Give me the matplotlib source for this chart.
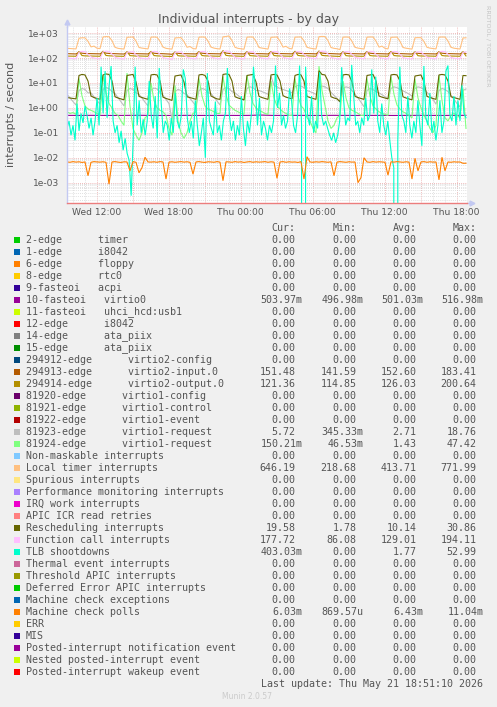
import numpy as np
import matplotlib
matplotlib.use("Agg")
import matplotlib.pyplot as plt
from matplotlib.patches import Rectangle
from matplotlib.ticker import FixedLocator, LogLocator, FuncFormatter

W, H = 497, 707

# ---------------- time axis (hours since Wed 00:00) ----------------
t_start = 9.54
t_end = 42.875
t_last = 42.79
x_tick_hours = [12, 18, 24, 30, 36, 42]
x_tick_labels = ["Wed 12:00", "Wed 18:00", "Thu 00:00", "Thu 06:00", "Thu 12:00", "Thu 18:00"]
x_major_grid_hours = [12, 15, 18, 21, 24, 27, 30, 33, 36, 39, 42]
x_minor_grid_hours = [10, 11, 13, 14, 16, 17, 19, 20, 22, 23, 25, 26, 28, 29, 31, 32,
                      34, 35, 37, 38, 40, 41]

# ---------------- legend ----------------
labels = [
    "2-edge      timer", "1-edge      i8042", "6-edge      floppy", "8-edge      rtc0",
    "9-fasteoi   acpi", "10-fasteoi   virtio0", "11-fasteoi   uhci_hcd:usb1",
    "12-edge      i8042", "14-edge      ata_piix", "15-edge      ata_piix",
    "294912-edge      virtio2-config", "294913-edge      virtio2-input.0",
    "294914-edge      virtio2-output.0", "81920-edge      virtio1-config",
    "81921-edge      virtio1-control", "81922-edge      virtio1-event",
    "81923-edge      virtio1-request", "81924-edge      virtio1-request",
    "Non-maskable interrupts", "Local timer interrupts", "Spurious interrupts",
    "Performance monitoring interrupts", "IRQ work interrupts", "APIC ICR read retries",
    "Rescheduling interrupts", "Function call interrupts", "TLB shootdowns",
    "Thermal event interrupts", "Threshold APIC interrupts", "Deferred Error APIC interrupts",
    "Machine check exceptions", "Machine check polls", "ERR", "MIS",
    "Posted-interrupt notification event", "Nested posted-interrupt event",
    "Posted-interrupt wakeup event",
]
colors = [
    "#00CC00", "#0066B3", "#FF8000", "#FFCC00", "#330099", "#990099", "#CCFF00", "#FF0000",
    "#808080", "#008F00", "#00487D", "#B35A00", "#B38F00", "#6B006B", "#8FB300", "#B30000",
    "#BEBEBE", "#80FF80", "#80C9FF", "#FFC080", "#FFE680", "#AA80FF", "#EE00CC", "#FF8080",
    "#666600", "#FFBFFF", "#00FFCC", "#CC6699", "#999900",
    "#00CC00", "#0066B3", "#FF8000", "#FFCC00", "#330099", "#990099", "#CCFF00", "#FF0000",
]
stat_cur = [0, 0, 0, 0, 0, 0.50397, 0, 0, 0, 0, 0, 151.48, 121.36, 0, 0, 0, 5.72, 0.15021,
            0, 646.19, 0, 0, 0, 0, 19.58, 177.72, 0.40303, 0, 0, 0, 0, 0.00603, 0, 0, 0, 0, 0]
stat_min = [0, 0, 0, 0, 0, 0.49698, 0, 0, 0, 0, 0, 141.59, 114.85, 0, 0, 0, 0.34533, 0.04653,
            0, 218.68, 0, 0, 0, 0, 1.78, 86.08, 0, 0, 0, 0, 0, 0.00086957, 0, 0, 0, 0, 0]
stat_avg = [0, 0, 0, 0, 0, 0.50103, 0, 0, 0, 0, 0, 152.60, 126.03, 0, 0, 0, 2.71, 1.43,
            0, 413.71, 0, 0, 0, 0, 10.14, 129.01, 1.77, 0, 0, 0, 0, 0.00643, 0, 0, 0, 0, 0]
stat_max = [0, 0, 0, 0, 0, 0.51698, 0, 0, 0, 0, 0, 183.41, 200.64, 0, 0, 0, 18.76, 47.42,
            0, 771.99, 0, 0, 0, 0, 30.86, 194.11, 52.99, 0, 0, 0, 0, 0.01104, 0, 0, 0, 0, 0]

# ---------------- series ----------------
virtio0 = [0.501, 0.499, 0.503, 0.500, 0.498, 0.502, 0.505, 0.500, 0.497, 0.501, 0.503, 0.499,
           0.500, 0.502, 0.498, 0.501, 0.517, 0.500, 0.499, 0.502, 0.500, 0.498, 0.503, 0.501,
           0.499, 0.500, 0.502, 0.497, 0.501, 0.503, 0.500, 0.499, 0.502, 0.504]

virtio2_input = [
    150, 148, 147, 146, 172, 156, 152, 151,
    150, 149, 148, 147, 175, 157, 153, 151,
    149, 148, 146, 145, 170, 155, 151, 150,
    150, 149, 147, 146, 174, 156, 152, 151,
    149, 147, 145, 141.59, 168, 154, 151, 150,
    150, 148, 147, 146, 172, 156, 152, 151,
    151, 149, 148, 147, 183.41, 158, 153, 152,
    150, 148, 147, 146, 171, 155, 152, 150,
    150, 149, 147, 146, 173, 156, 152, 151,
    151, 149, 148, 147, 174, 157, 153, 151,
    151, 150, 148, 147, 178, 158, 154, 152,
    150, 148, 147, 145, 170, 155, 151, 150,
    150, 149, 147, 146, 172, 156, 152, 151,
    150, 149, 148, 146, 173, 156, 152, 151,
    149, 147, 146, 145, 168, 154, 151, 150,
    150, 149, 147, 146, 172, 156, 152, 151,
    150, 148, 147, 146, 170, 151.48,
]

virtio2_output = [
    120, 119, 118, 118, 185, 126, 122, 121,
    121, 120, 119, 118, 190, 127, 123, 121,
    120, 119, 118, 117, 182, 125, 122, 120,
    121, 120, 118, 118, 188, 126, 122, 121,
    120, 118, 117, 114.85, 178, 124, 121, 120,
    121, 119, 118, 118, 186, 126, 122, 121,
    121, 120, 119, 118, 200.64, 128, 123, 122,
    120, 119, 118, 117, 184, 125, 122, 120,
    121, 120, 118, 118, 187, 126, 122, 121,
    121, 120, 119, 118, 189, 127, 123, 121,
    122, 120, 119, 118, 195, 128, 124, 122,
    120, 119, 118, 116, 183, 125, 121, 120,
    121, 119, 118, 118, 186, 126, 122, 121,
    121, 120, 118, 118, 187, 126, 122, 121,
    120, 118, 117, 116, 180, 124, 121, 120,
    121, 120, 118, 118, 186, 126, 122, 121,
    120, 119, 118, 118, 182, 121.36,
]

virtio1_request_a = [
    3.5, 2.5, 1.8, 1.3, 5.0, 6.0, 5.5, 4.0,
    4.0, 2.8, 2.0, 1.4, 5.5, 6.5, 6.0, 4.5,
    3.8, 2.6, 1.8, 1.2, 5.0, 6.0, 5.5, 4.0,
    3.5, 2.5, 1.7, 1.2, 5.2, 6.2, 5.8, 4.2,
    3.2, 2.2, 1.5, 0.345, 4.5, 5.5, 5.0, 3.8,
    3.4, 2.4, 1.7, 1.2, 5.0, 6.0, 5.5, 4.0,
    3.8, 2.7, 1.9, 1.3, 5.5, 6.5, 6.0, 4.5,
    4.0, 3.2, 2.5, 2.0, 6.0, 7.0, 6.5, 5.0,
    5.0, 4.5, 4.0, 3.5, 18.76, 8.0, 7.0, 6.0,
    5.5, 5.0, 4.5, 4.0, 7.0, 8.0, 7.5, 6.5,
    5.0, 4.5, 4.0, 3.5, 6.5, 7.5, 7.0, 6.0,
    4.2, 3.2, 2.4, 1.7, 6.0, 7.0, 6.5, 5.0,
    3.5, 2.5, 1.7, 1.1, 5.0, 6.0, 5.5, 4.5,
    4.0, 3.4, 2.8, 2.3, 6.0, 7.0, 6.5, 5.5,
    4.8, 4.2, 3.6, 3.0, 6.0, 7.0, 6.5, 5.5,
    4.2, 3.2, 2.2, 1.4, 5.0, 6.0, 5.5, 4.5,
    3.2, 2.2, 1.5, 1.1, 5.0, 5.72,
]

virtio1_request_b = [
    0.7, 0.6, 0.65, 0.55, 15, 3, 1.2, 0.9,
    0.8, 0.7, 0.6, 0.5, 20, 4, 1.5, 1.0,
    0.6, 0.5, 0.3, 0.2, 25, 1.2, 0.15, 0.08,
    0.05, 0.1, 0.4, 0.5, 10, 2, 1.0, 0.8,
    0.7, 0.5, 0.15, 0.08, 8, 0.3, 0.1, 0.06,
    0.1, 0.3, 0.6, 0.7, 15, 3, 1.2, 0.9,
    0.8, 0.7, 0.6, 0.6, 18, 3.5, 1.3, 1.0,
    0.8, 0.7, 0.6, 0.55, 20, 4, 1.5, 1.0,
    0.8, 0.7, 0.6, 0.55, 12, 2.5, 1.2, 0.9,
    0.7, 0.6, 0.5, 0.5, 15, 3, 1.2, 0.9,
    0.4, 0.3, 0.15, 0.1, 47.42, 5, 1.2, 0.3,
    0.15, 0.2, 0.4, 0.5, 12, 2.5, 1.0, 0.8,
    0.7, 0.6, 0.5, 0.5, 15, 3, 1.2, 0.9,
    0.7, 0.6, 0.55, 0.5, 18, 3.5, 1.3, 0.9,
    0.7, 0.6, 0.5, 0.4, 14, 2.5, 1.0, 0.5,
    0.3, 0.15, 0.1, 0.2, 20, 2, 0.4, 0.3,
    0.5, 0.6, 0.5, 0.4, 6, 0.15,
]

local_timer = [
    245, 240, 236, 232, 620, 650, 648, 470,
    280, 300, 248, 238, 700, 725, 715, 500,
    270, 245, 236, 230, 680, 690, 700, 480,
    265, 250, 240, 232, 690, 700, 685, 470,
    275, 245, 235, 228, 640, 655, 660, 460,
    270, 290, 240, 232, 690, 700, 690, 480,
    275, 250, 238, 230, 710, 730, 771.99, 500,
    270, 245, 235, 226, 690, 700, 695, 470,
    265, 250, 240, 228, 680, 690, 700, 480,
    275, 295, 245, 232, 690, 700, 705, 490,
    270, 250, 238, 230, 720, 735, 725, 500,
    265, 245, 236, 218.68, 690, 700, 690, 470,
    270, 250, 240, 230, 690, 700, 700, 480,
    275, 300, 245, 232, 680, 690, 695, 470,
    265, 248, 238, 228, 650, 660, 655, 460,
    270, 250, 240, 232, 690, 700, 695, 480,
    270, 248, 238, 230, 640, 646.19,
]

rescheduling = [
    2.6, 2.5, 2.4, 2.3, 20, 22, 21, 12,
    3.0, 2.6, 2.4, 2.2, 21, 23, 22, 12,
    2.8, 2.5, 2.3, 2.1, 20, 21, 22, 11,
    2.9, 2.6, 2.4, 2.2, 21, 22, 21, 12,
    2.7, 2.4, 2.2, 2.0, 19, 20, 21, 11,
    2.8, 2.6, 2.4, 2.2, 21, 22, 20, 12,
    3.0, 2.6, 2.3, 2.2, 22, 23, 22, 12,
    2.8, 2.5, 2.3, 2.1, 20, 21, 22, 11,
    2.9, 2.6, 2.4, 2.2, 21, 22, 21, 12,
    3.1, 2.7, 2.5, 2.3, 20, 22, 21, 12,
    2.9, 2.6, 2.4, 2.2, 30.86, 22, 21, 12,
    2.8, 2.5, 2.3, 1.78, 21, 22, 21, 11,
    2.9, 2.6, 2.4, 2.2, 20, 21, 22, 12,
    3.0, 2.7, 2.5, 2.3, 21, 22, 21, 12,
    2.8, 2.5, 2.3, 2.1, 19, 20, 21, 11,
    2.9, 2.6, 2.4, 2.2, 21, 22, 21, 12,
    2.8, 2.6, 2.4, 2.2, 20, 19.58,
]

function_call = [
    105, 98, 95, 93, 170, 185, 180, 140,
    110, 100, 96, 92, 175, 190, 182, 145,
    108, 99, 94, 90, 168, 180, 176, 138,
    106, 98, 95, 91, 172, 186, 180, 142,
    104, 97, 93, 86.08, 165, 178, 175, 136,
    107, 99, 95, 92, 170, 184, 180, 140,
    110, 101, 96, 93, 178, 194.11, 185, 145,
    106, 98, 94, 91, 170, 182, 178, 140,
    108, 100, 96, 92, 172, 185, 180, 142,
    107, 99, 95, 92, 170, 183, 179, 140,
    110, 101, 97, 93, 176, 190, 184, 145,
    106, 98, 94, 90, 170, 182, 178, 140,
    108, 100, 96, 92, 172, 185, 180, 142,
    107, 99, 95, 92, 170, 184, 180, 141,
    104, 97, 93, 90, 166, 178, 175, 136,
    108, 100, 96, 92, 172, 186, 180, 142,
    106, 98, 95, 92, 168, 177.72,
]

tlb_shootdowns = [
    0.15, 0.3, 0.08, 0.2, 0.05, 1.5, 0.12, 0.6, 0.25, 1.2,
    0.5, 0.15, 0.4, 0.08, 0.3, 2.5, 0.2, 45, 0.6, 30,
    0.4, 8, 48, 0.3, 0.1, 0.2, 0.04, 0.12, 0.02, 0.06,
    0.015, 0.008, 0.0003, 0.05, 45, 0.2, 2.0, 0.1, 0.35, 0.08,
    0.3, 12, 0.5, 0.15, 3.0, 0.06, 40, 1.5, 0.1, 0.3,
    0.2, 0.05, 0.4, 0.1, 4.0, 0.3, 0.15, 0.5, 35, 15,
    0.4, 0.1, 0.3, 0.06, 2.0, 0.2, 0.03, 0.1, 0.4, 0.01,
    25, 0.3, 0.15, 0.08, 1.8, 0.1, 0.2, 0.05, 0.3, 0.6,
    40, 0.5, 0.12, 0.3, 0.05, 0.2, 0.08, 3.0, 0.15, 0.03,
    0.3, 0.1, 0.6, 45, 5, 0.2, 2.5, 0.08, 0.3, 0.15,
    0.05, 0.2, 0.1, 0.3, 50, 1.0, 4.0, 0.2, 0.5, 0.15,
    0.3, 6, 2.0, 0.2, 0.1, 0.5, 50, 0.2, 0.0, 45,
    0.5, 0.2, 3.0, 0.1, 0.3, 0.15, 27, 0.5, 0.2, 0.3,
    0.15, 0.08, 0.05, 0.1, 0.04, 0.08, 0.3, 43, 2.0, 0.2,
    0.4, 0.3, 52.99, 3.0, 0.2, 0.3, 0.1, 0.4, 0.2, 2.5,
    0.3, 0.5, 35, 0.6, 18, 0.3, 0.1, 1.5, 0.2, 0.08,
    0.3, 0.05, 0.01, 0.004, 0.0, 0.05, 45, 0.5, 0.3, 0.1,
    3.0, 0.2, 0.06, 0.3, 0.1, 2.0, 0.2, 0.03, 48, 0.4,
    0.2, 4.0, 0.1, 0.3, 0.05, 0.2, 2.0, 0.1, 0.3, 30,
    50, 0.5, 0.3, 3.0, 0.2, 2.0, 0.3, 8, 0.6, 0.403,
]

machine_check_polls = [
    0.0068, 0.0066, 0.0070, 0.0067, 0.0069, 0.0065, 0.0068, 0.0019, 0.0066, 0.0070,
    0.0068, 0.0067, 0.0069, 0.0066, 0.00087, 0.0068, 0.0070, 0.0067, 0.0065, 0.0069,
    0.0068, 0.0030, 0.0070, 0.0066, 0.0025, 0.0040, 0.0105, 0.0068, 0.0067, 0.0069,
    0.0066, 0.0070, 0.0068, 0.0014, 0.0067, 0.0069, 0.0066, 0.0068, 0.0070, 0.0067,
    0.0069, 0.0066, 0.0022, 0.0068, 0.0070, 0.0067, 0.0065, 0.0069, 0.0068, 0.0066,
    0.0070, 0.0067, 0.0012, 0.0069, 0.0068, 0.0066, 0.0070, 0.0067, 0.0069, 0.0065,
    0.0068, 0.0070, 0.0066, 0.0069, 0.0067, 0.0068, 0.0070, 0.0066, 0.0069, 0.0067,
    0.0015, 0.0068, 0.0070, 0.0066, 0.0069, 0.0067, 0.0068, 0.0065, 0.0070, 0.0014,
    0.0110, 0.0068, 0.0066, 0.0069, 0.0067, 0.0070, 0.0068, 0.0066, 0.0069, 0.0019,
    0.0067, 0.0070, 0.0068, 0.0066, 0.0069, 0.0067, 0.0068, 0.0010, 0.0016, 0.0100,
    0.0068, 0.0066, 0.0070, 0.0067, 0.0069, 0.0068, 0.0066, 0.0020, 0.0069, 0.0067,
    0.0070, 0.0068, 0.0066, 0.0069, 0.0067, 0.0014, 0.0095, 0.0030, 0.0068, 0.0070,
    0.0066, 0.0069, 0.0067, 0.0068, 0.0013, 0.0105, 0.0030, 0.0068, 0.0066, 0.0069,
    0.0067, 0.0068, 0.0060, 0.00603,
]

# legend index -> series
series = [
    (5, virtio0), (11, virtio2_input), (12, virtio2_output), (16, virtio1_request_a),
    (17, virtio1_request_b), (19, local_timer), (24, rescheduling), (25, function_call),
    (26, tlb_shootdowns), (31, machine_check_polls),
]

TXT = "#555555"
plt.rcParams["font.family"] = ["DejaVu Sans"]

fig = plt.figure(figsize=(W / 100, H / 100), dpi=100, facecolor="#F0F0F0")
ax_top, ax_bot = 27.3, 203.3
ax = fig.add_axes([67 / W, 1 - ax_bot / H, 400 / W, (ax_bot - ax_top) / H])
ax.set_facecolor("white")
ax.set_yscale("log", nonpositive="clip")
ax.set_xlim(t_start, t_end)
ax.set_ylim(1.49e-4, 1710)

for idx, data in series:
    t = np.linspace(t_start, t_last, len(data))
    ax.plot(t, np.asarray(data, dtype=float), color=colors[idx], lw=0.8, solid_joinstyle="miter")

# ticks & grid
ax.xaxis.set_major_locator(FixedLocator(x_major_grid_hours))
ax.xaxis.set_minor_locator(FixedLocator(x_minor_grid_hours))
lab_map = dict(zip(x_tick_hours, x_tick_labels))
ax.xaxis.set_major_formatter(FuncFormatter(lambda v, p: lab_map.get(int(round(v)), "")))
ax.yaxis.set_major_locator(LogLocator(base=10, numticks=20))
ax.yaxis.set_minor_locator(LogLocator(base=10, subs=np.arange(2, 10), numticks=20))
ax.yaxis.set_major_formatter(FuncFormatter(lambda v, p: "1e%+03d" % int(round(np.log10(v)))))
ax.tick_params(which="both", length=0)
ax.tick_params(axis="x", which="major", pad=3.3, labelsize=6.6, labelcolor=TXT)
ax.tick_params(axis="y", which="major", pad=5.8, labelsize=6.6, labelcolor=TXT)
ax.set_axisbelow(True)
ax.grid(True, which="minor", color="#d6d6d6", ls=(0, (1, 1.5)), lw=0.6)
ax.grid(True, which="major", color="#e9a3a3", ls=(0, (1, 1.5)), lw=0.6)

for s in ("top", "right"):
    ax.spines[s].set_visible(False)
ax.spines["left"].set_color("#c3c9f2")
ax.spines["left"].set_linewidth(1.0)
ax.spines["bottom"].set_color("#ec7d7d")
ax.spines["bottom"].set_linewidth(1.0)
# axis arrows
ax.plot([0, 0], [1, 1.025], transform=ax.transAxes, color="#c3c9f2", lw=1.0, clip_on=False)
ax.plot([0], [1.03], marker="^", ms=3.5, color="#c3c9f2", transform=ax.transAxes, clip_on=False)
ax.plot([1, 1.01], [0, 0], transform=ax.transAxes, color="#c3c9f2", lw=1.0, clip_on=False)
ax.plot([1.012], [0], marker=">", ms=3.5, color="#c3c9f2", transform=ax.transAxes, clip_on=False)

# titles
fig.text(248.5 / W, 1 - 19.3 / H, "Individual interrupts - by day", ha="center", va="center",
         fontsize=9, color=TXT)
fig.text(11 / W, 1 - 114.3 / H, "interrupts / second", rotation=90, ha="center", va="center",
         fontsize=8, color=TXT)
fig.text(487.5 / W, 1 - 5 / H, "RRDTOOL / TOBI OETIKER", rotation=270, ha="center", va="top",
         fontsize=4.6, color="#c4c4c4")

# legend table
MONO = "DejaVu Sans Mono"
FS = 7.2
col_right = [295.7, 356.7, 416.7, 476.7]
headers = ["Cur:", "Min:", "Avg:", "Max:"]
y_head = 227.5
for cx, h in zip(col_right, headers):
    fig.text(cx / W, 1 - y_head / H, h, ha="right", va="center", family=MONO, fontsize=FS, color=TXT)


def fmt(v):
    if v == 0:
        return "0.00", False
    if v < 1e-3:
        return "%.2fu" % (v * 1e6), True
    if v < 1:
        return "%.2fm" % (v * 1e3), True
    return "%.2f" % v, False


y0, dy = 239.7, 12.0
for r, (lab, col) in enumerate(zip(labels, colors)):
    y = y0 + dy * r
    fig.patches.append(Rectangle((14 / W, 1 - (y + 3) / H), 6 / W, 6 / H,
                                 transform=fig.transFigure, facecolor=col, edgecolor="none"))
    fig.text(26 / W, 1 - y / H, lab, ha="left", va="center", family=MONO, fontsize=FS, color=TXT)
    for cx, v in zip(col_right, (stat_cur[r], stat_min[r], stat_avg[r], stat_max[r])):
        s, has_suffix = fmt(v)
        xr = cx + 6.6 if has_suffix else cx
        fig.text(xr / W, 1 - y / H, s, ha="right", va="center", family=MONO, fontsize=FS, color=TXT)

fig.text(482.7 / W, 1 - 684 / H, "Last update: Thu May 21 18:51:10 2026", ha="right",
         va="center", family=MONO, fontsize=FS, color=TXT)
fig.text(247.5 / W, 1 - 696.5 / H, "Munin 2.0.57", ha="center", va="center", fontsize=5.5,
         color="#cbcbcb")

fig.savefig("out.png", dpi=100, facecolor=fig.get_facecolor())
